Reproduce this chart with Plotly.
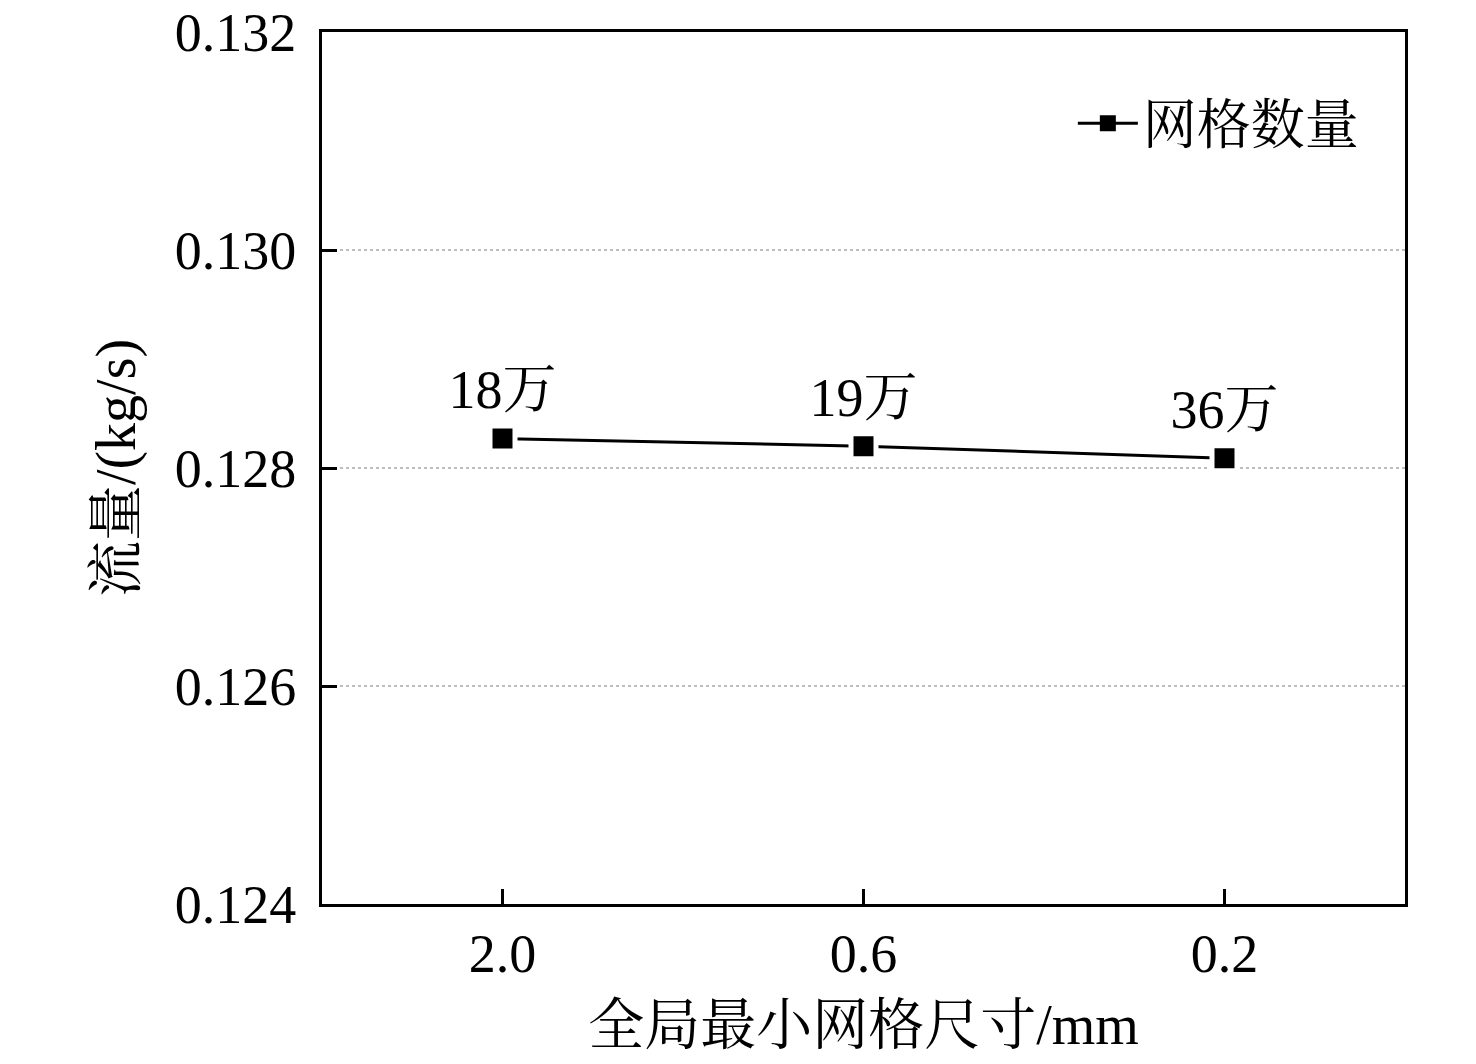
import plotly.graph_objects as go

categories = ["2.0", "0.6", "0.2"]
flow = [0.12827, 0.12820, 0.12809]
labels = ["18万", "19万", "36万"]
series_name = "网格数量"
y_ticks = [0.124, 0.126, 0.128, 0.130, 0.132]
y_ticktext = ["0.124", "0.126", "0.128", "0.130", "0.132"]

FONT = "Liberation Serif, 'Times New Roman', 'Noto Serif CJK SC', 'Noto Sans CJK SC', serif"

fig = go.Figure()
fig.add_trace(go.Scatter(
    x=categories, y=flow, name=series_name,
    mode="lines+markers+text",
    text=labels, textposition="top center",
    textfont=dict(family=FONT, size=54, color="black"),
    line=dict(color="black", width=3),
    marker=dict(symbol="square", size=25, color="black",
                line=dict(color="white", width=5)),
    cliponaxis=False,
    showlegend=False,
))
# legend entry (same style, without the white halo that shrinks the legend glyph)
fig.add_trace(go.Scatter(
    x=[None], y=[None], name=series_name,
    mode="lines+markers",
    line=dict(color="black", width=3),
    marker=dict(symbol="square", size=16, color="black"),
    showlegend=True,
))

fig.update_layout(
    width=1460, height=1048,
    margin=dict(l=314, r=63, t=24, b=152),
    paper_bgcolor="white", plot_bgcolor="white",
    font=dict(family=FONT, size=54, color="black"),
    showlegend=True,
    legend=dict(x=0.962, y=0.895, xanchor="right", yanchor="middle",
                bgcolor="rgba(0,0,0,0)", font=dict(family=FONT, size=54),
                itemwidth=60),
)
fig.update_xaxes(
    type="category", range=[-0.5, 2.5], automargin=False,
    showline=True, linecolor="black", linewidth=3, mirror=True,
    ticks="inside", ticklen=15, tickwidth=3, tickcolor="black",
    showgrid=False, zeroline=False,
    tickfont=dict(family=FONT, size=54),
    ticklabelstandoff=0, ticklabeloverflow="allow",
    title=dict(text="全局最小网格尺寸/mm", font=dict(family=FONT, size=56), standoff=29),
)
fig.update_yaxes(
    range=[0.124, 0.132], automargin=False,
    tickvals=y_ticks, ticktext=y_ticktext,
    showline=True, linecolor="black", linewidth=3, mirror=True,
    ticks="inside", ticklen=15, tickwidth=3, tickcolor="black",
    showgrid=True, gridcolor="#bdbdbd", gridwidth=2, griddash="dot",
    zeroline=False,
    tickfont=dict(family=FONT, size=54),
    ticklabelstandoff=12, ticklabeloverflow="allow",
    title=dict(text="流量/(kg/s)", font=dict(family=FONT, size=56), standoff=22),
)

fig.write_html("out.html")
